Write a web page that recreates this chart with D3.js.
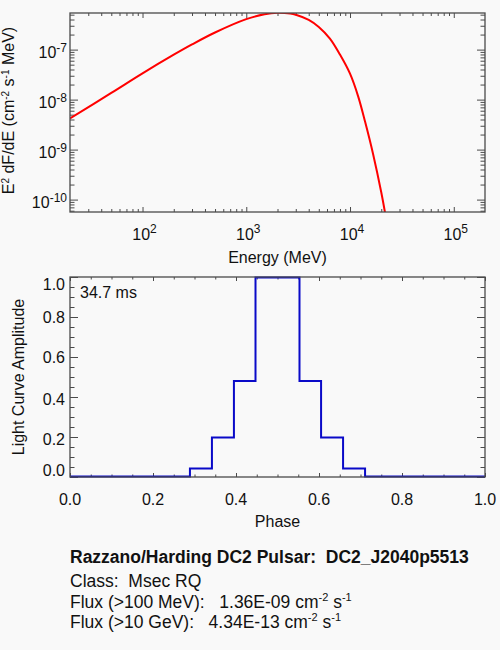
<!DOCTYPE html>
<html><head><meta charset="utf-8">
<script src="https://cdn.jsdelivr.net/npm/d3@7"></script>
<style>
html,body{margin:0;padding:0;background:#f9f9f9;}
svg{display:block;font-family:"Liberation Sans",Arial,Helvetica,sans-serif;}
text{white-space:pre;}
</style></head><body>
<svg id="c" width="500" height="650"></svg>
<script>
// ---- Spectrum (top panel) ----
const energyMeV = [20, 50, 100, 200, 300, 500, 1000, 1500, 2000, 2650, 3000, 4000, 5000, 6400, 8000, 10000, 12000, 14000, 16700, 20000, 22000];
const e2dfde = [4.2e-9, 1.36e-8, 3.35e-8, 7.9e-8, 1.27e-7, 2.2e-7, 4.07e-7, 5.1e-7, 5.46e-7, 5.28e-7, 5.0e-7, 3.94e-7, 2.84e-7, 1.66e-7, 7.96e-8, 3.3e-8, 1.15e-8, 3.55e-9, 8.1e-10, 1.4e-10, 4.8e-11];
const energyTicks = [1e2, 1e3, 1e4, 1e5];
const energyTickExp = ["2", "3", "4", "5"];
const fluxTicks = [1e-7, 1e-8, 1e-9, 1e-10];
const fluxTickExp = ["-7", "-8", "-9", "-10"];

// ---- Light curve (bottom panel) ----
const phaseEdges = [0, 0.289, 0.342, 0.395, 0.447, 0.553, 0.605, 0.658, 0.711, 1.0];
const amplitude = [0, 0.04, 0.195, 0.478, 0.995, 0.478, 0.195, 0.04, 0];
const phaseTicks = [0, 0.2, 0.4, 0.6, 0.8, 1.0];
const phaseTickLabels = ["0.0", "0.2", "0.4", "0.6", "0.8", "1.0"];
const ampTicks = [0, 0.2, 0.4, 0.6, 0.8, 1.0];
const ampTickLabels = ["0.0", "0.2", "0.4", "0.6", "0.8", "1.0"];
const periodLabel = "34.7 ms";

// ---- Footer ----
const titleLine = "Razzano/Harding DC2 Pulsar:  DC2_J2040p5513";
const classLine = "Class:  Msec RQ";
const fluxLabels = ["Flux (>100 MeV):   ", "Flux (>10 GeV):   "];
const fluxValues = ["1.36E-09", "4.34E-13"];

const svg = d3.select("#c");
svg.append("rect").attr("width", 500).attr("height", 650).attr("fill", "#f9f9f9");
const AX = "#4a4a4a";
const FS = 16;
const FF = 17.5;

// ================= TOP PANEL =================
const L = 70, R = 485, T1 = 13, B1 = 212;
const xE = d3.scaleLog().domain([20, 2e5]).range([L, R]);
const yF = d3.scaleLog().domain([5.65e-11, 5.4e-7]).range([B1, T1]);

function minorLog(lo, hi) {
  const out = [];
  for (let d = Math.floor(Math.log10(lo)); d <= Math.ceil(Math.log10(hi)); d++) {
    for (let m = 2; m <= 9; m++) {
      const v = m * Math.pow(10, d);
      if (v > lo && v < hi) out.push(v);
    }
  }
  return out;
}
function addAxis(axisFn, tr) {
  const g = svg.append("g").attr("transform", tr).call(axisFn);
  g.select(".domain").remove();
  g.selectAll("line").attr("stroke", AX).attr("stroke-width", 1);
  g.selectAll("text").remove();
  return g;
}
const eMinor = minorLog(20, 2e5);
const fMinor = minorLog(5.65e-11, 5.4e-7);

addAxis(d3.axisBottom(xE).tickValues(energyTicks).tickSize(-5).tickSizeOuter(0), `translate(0,${B1})`);
addAxis(d3.axisBottom(xE).tickValues(eMinor).tickSize(-3).tickSizeOuter(0), `translate(0,${B1})`);
addAxis(d3.axisTop(xE).tickValues(energyTicks).tickSize(-5).tickSizeOuter(0), `translate(0,${T1})`);
addAxis(d3.axisTop(xE).tickValues(eMinor).tickSize(-3).tickSizeOuter(0), `translate(0,${T1})`);
addAxis(d3.axisLeft(yF).tickValues(fluxTicks).tickSize(-8).tickSizeOuter(0), `translate(${L},0)`);
addAxis(d3.axisLeft(yF).tickValues(fMinor).tickSize(-4.5).tickSizeOuter(0), `translate(${L},0)`);
addAxis(d3.axisRight(yF).tickValues(fluxTicks).tickSize(-8).tickSizeOuter(0), `translate(${R},0)`);
addAxis(d3.axisRight(yF).tickValues(fMinor).tickSize(-4.5).tickSizeOuter(0), `translate(${R},0)`);

svg.append("defs").append("clipPath").attr("id", "clip1")
  .append("rect").attr("x", L).attr("y", T1).attr("width", R - L).attr("height", B1 - T1);

const specLine = d3.line()
  .x(d => xE(d[0]))
  .y(d => yF(d[1]))
  .curve(d3.curveCatmullRom.alpha(0.5));
svg.append("path")
  .datum(energyMeV.map((e, i) => [e, e2dfde[i]]))
  .attr("clip-path", "url(#clip1)")
  .attr("fill", "none").attr("stroke", "#ff0000").attr("stroke-width", 2)
  .attr("d", specLine);

svg.append("rect").attr("x", L).attr("y", T1).attr("width", R - L).attr("height", B1 - T1)
  .attr("fill", "none").attr("stroke", AX).attr("stroke-width", 1.3);

// x labels (10^n)
energyTicks.forEach((v, i) => {
  const t = svg.append("text").attr("x", xE(v) + 2).attr("y", 240)
    .attr("text-anchor", "middle").attr("font-size", FS).attr("fill", "#111");
  t.append("tspan").text("10");
  t.append("tspan").attr("font-size", 12).attr("dy", -7).text(energyTickExp[i]);
});
// y labels
fluxTicks.forEach((v, i) => {
  const t = svg.append("text").attr("x", 67).attr("y", yF(v) + 8.5)
    .attr("text-anchor", "end").attr("font-size", FS).attr("fill", "#111");
  t.append("tspan").text("10");
  t.append("tspan").attr("font-size", 12).attr("dy", -6).text(fluxTickExp[i]);
});
svg.append("text").attr("x", (L + R) / 2).attr("y", 263).attr("text-anchor", "middle")
  .attr("font-size", FS).attr("fill", "#111").text("Energy (MeV)");

// y title (rotated)
{
  const t = svg.append("text").attr("transform", `translate(14,${(T1 + B1) / 2 - 2}) rotate(-90)`)
    .attr("text-anchor", "middle").attr("font-size", FS).attr("fill", "#111");
  t.append("tspan").text("E");
  t.append("tspan").attr("font-size", 10).attr("dy", -5).text("2");
  t.append("tspan").attr("dy", 5).text(" dF/dE (cm");
  t.append("tspan").attr("font-size", 10).attr("dy", -5).text("-2");
  t.append("tspan").attr("dy", 5).text(" s");
  t.append("tspan").attr("font-size", 10).attr("dy", -5).text("-1");
  t.append("tspan").attr("dy", 5).text(" MeV)");
}

// ================= BOTTOM PANEL =================
const T2 = 277, B2 = 477;
const xP = d3.scaleLinear().domain([0, 1]).range([L, R]);
const yA = d3.scaleLinear().domain([0, 1]).range([B2, T2]);
const pMinor = d3.range(0, 1.0001, 0.05).filter(v => Math.abs(v * 5 - Math.round(v * 5)) > 1e-6);
const aMinor = pMinor;

addAxis(d3.axisBottom(xP).tickValues(phaseTicks).tickSize(-4).tickSizeOuter(0), `translate(0,${B2})`);
addAxis(d3.axisBottom(xP).tickValues(pMinor).tickSize(-2.5).tickSizeOuter(0), `translate(0,${B2})`);
addAxis(d3.axisTop(xP).tickValues(phaseTicks).tickSize(-4).tickSizeOuter(0), `translate(0,${T2})`);
addAxis(d3.axisTop(xP).tickValues(pMinor).tickSize(-2.5).tickSizeOuter(0), `translate(0,${T2})`);
addAxis(d3.axisLeft(yA).tickValues(ampTicks).tickSize(-8).tickSizeOuter(0), `translate(${L},0)`);
addAxis(d3.axisLeft(yA).tickValues(aMinor).tickSize(-4.5).tickSizeOuter(0), `translate(${L},0)`);
addAxis(d3.axisRight(yA).tickValues(ampTicks).tickSize(-8).tickSizeOuter(0), `translate(${R},0)`);
addAxis(d3.axisRight(yA).tickValues(aMinor).tickSize(-4.5).tickSizeOuter(0), `translate(${R},0)`);

const stepPts = phaseEdges.map((p, i) => [p, amplitude[Math.min(i, amplitude.length - 1)]]);
svg.append("path").datum(stepPts)
  .attr("fill", "none").attr("stroke", "#0a0ac8").attr("stroke-width", 2)
  .attr("d", d3.line().x(d => xP(d[0])).y(d => yA(d[1]) - 0.5).curve(d3.curveStepAfter));

svg.append("rect").attr("x", L).attr("y", T2).attr("width", R - L).attr("height", B2 - T2)
  .attr("fill", "none").attr("stroke", AX).attr("stroke-width", 1.3);

phaseTicks.forEach((v, i) => {
  svg.append("text").attr("x", xP(v)).attr("y", 505).attr("text-anchor", "middle")
    .attr("font-size", FS).attr("fill", "#111").text(phaseTickLabels[i]);
});
const ampDy = [-1, 8, 8, 6, 6, 13];
ampTicks.forEach((v, i) => {
  svg.append("text").attr("x", 65).attr("y", yA(v) + ampDy[i]).attr("text-anchor", "end")
    .attr("font-size", FS).attr("fill", "#111").text(ampTickLabels[i]);
});
svg.append("text").attr("x", (L + R) / 2).attr("y", 527).attr("text-anchor", "middle")
  .attr("font-size", FS).attr("fill", "#111").text("Phase");
svg.append("text").attr("transform", `translate(24,${(T2 + B2) / 2}) rotate(-90)`)
  .attr("text-anchor", "middle").attr("font-size", FS).attr("fill", "#111").text("Light Curve Amplitude");
svg.append("text").attr("x", 80).attr("y", 298).attr("font-size", FS).attr("fill", "#111").text(periodLabel);

// ================= FOOTER =================
svg.append("text").attr("x", 70).attr("y", 563).attr("font-size", FF).attr("font-weight", "bold")
  .attr("fill", "#111").text(titleLine);
svg.append("text").attr("x", 70).attr("y", 587).attr("font-size", FF).attr("fill", "#111").text(classLine);
[608, 628].forEach((yy, i) => {
  const t = svg.append("text").attr("x", 70).attr("y", yy).attr("font-size", FF).attr("fill", "#111");
  t.append("tspan").text(fluxLabels[i] + fluxValues[i] + " cm");
  t.append("tspan").attr("font-size", 11).attr("dy", -7).text("-2");
  t.append("tspan").attr("dy", 7).text(" s");
  t.append("tspan").attr("font-size", 11).attr("dy", -7).text("-1");
});
</script>
</body></html>
